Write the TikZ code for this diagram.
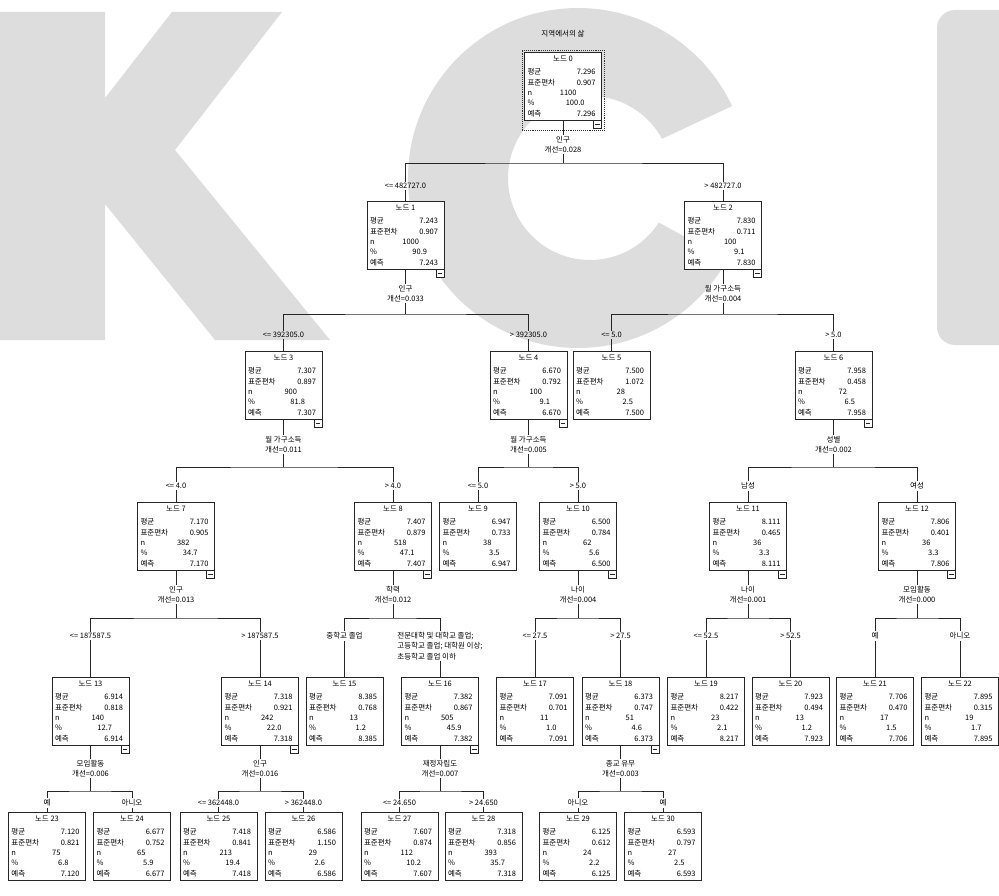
\documentclass[tikz,border=0pt]{standalone}
\usepackage{fontspec}
\setmainfont{Noto Sans CJK KR}
\usetikzlibrary{positioning,calc,fit}
\definecolor{kcigray}{RGB}{221,221,221}

% one line of a node table: label left, value right-aligned at #2
\newcommand\nrow[3]{\makebox[71pt][l]{\rlap{#1}\hspace{#2}\llap{#3}}}
\newcommand\stats[6]{\makebox[71pt]{노드 #1}\\[2.7pt]
  \nrow{평균}{68pt}{#2}\\\nrow{표준편차}{68pt}{#3}\\
  \nrow{n}{49pt}{#4}\\\nrow{\%}{57pt}{#5}\\\nrow{예측}{68pt}{#6}}

\begin{document}
\begin{tikzpicture}[
    x=1pt, y=-1pt,
    font=\fontsize{7.5}{10.3}\selectfont,
    spss/.style={rectangle, draw=black!85, line width=0.9pt, fill=white, minimum width=77pt, minimum height=68pt, inner sep=0pt, align=center, anchor=north},
    toggle/.style={rectangle, draw=black!85, line width=0.7pt, fill=white, minimum size=8pt, inner sep=0pt, anchor=north east,
        path picture={\draw[line width=0.6pt] ([xshift=1.8pt]path picture bounding box.west) -- ([xshift=-1.8pt]path picture bounding box.east);}},
    split/.style={align=center, inner sep=1pt},
    cond/.style={inner sep=1.5pt},
    edge/.style={draw=black!85, line width=0.8pt}
]
\useasboundingbox (0,0) rectangle (999,896);

% Watermark letters
\fill[kcigray] (0,12) -- (105,12) -- (105,98) -- (172,12) -- (282,12) -- (175,150) -- (330,340)
    -- (215,340) -- (105,204) -- (105,340) -- (0,340) -- cycle;
\begin{scope}
    \clip (578,178) -- (805,72) -- (805,0) -- (380,0) -- (380,360) -- (805,360) -- (805,303) -- cycle;
    \fill[kcigray, even odd rule] (578,178) circle[radius=170] (590,178) circle[radius=82];
\end{scope}
\fill[kcigray, rounded corners=18pt] (937,345) -- (937,10) -- (1030,10) -- (1030,345) -- cycle;

% Title
\node (title) at (563,34) {지역에서의 삶};

% Level 0
\node[spss] (n0) at (563,52) {\stats{0}{7.296}{0.907}{1100}{100.0}{7.296}};

% Level 1
\node[spss] (n1) at (405.5,201) {\stats{1}{7.243}{0.907}{1000}{90.9}{7.243}};
\node[spss] (n2) at (723,201) {\stats{2}{7.830}{0.711}{100}{9.1}{7.830}};

% Level 2
\node[spss] (n3) at (283.5,351) {\stats{3}{7.307}{0.897}{900}{81.8}{7.307}};
\node[spss] (n4) at (528.5,351) {\stats{4}{6.670}{0.792}{100}{9.1}{6.670}};
\node[spss] (n5) at (611.5,351) {\stats{5}{7.500}{1.072}{28}{2.5}{7.500}};
\node[spss] (n6) at (833.5,351) {\stats{6}{7.958}{0.458}{72}{6.5}{7.958}};

% Level 3
\node[spss] (n7) at (176,502) {\stats{7}{7.170}{0.905}{382}{34.7}{7.170}};
\node[spss] (n8) at (393,502) {\stats{8}{7.407}{0.879}{518}{47.1}{7.407}};
\node[spss] (n9) at (478,502) {\stats{9}{6.947}{0.733}{38}{3.5}{6.947}};
\node[spss] (n10) at (578,502) {\stats{10}{6.500}{0.784}{62}{5.6}{6.500}};
\node[spss] (n11) at (748,502) {\stats{11}{8.111}{0.465}{36}{3.3}{8.111}};
\node[spss] (n12) at (917,502) {\stats{12}{7.806}{0.401}{36}{3.3}{7.806}};

% Level 4
\node[spss] (n13) at (90.5,677) {\stats{13}{6.914}{0.818}{140}{12.7}{6.914}};
\node[spss] (n14) at (260,677) {\stats{14}{7.318}{0.921}{242}{22.0}{7.318}};
\node[spss] (n15) at (344.5,677) {\stats{15}{8.385}{0.768}{13}{1.2}{8.385}};
\node[spss] (n16) at (440,677) {\stats{16}{7.382}{0.867}{505}{45.9}{7.382}};
\node[spss] (n17) at (535,677) {\stats{17}{7.091}{0.701}{11}{1.0}{7.091}};
\node[spss] (n18) at (620.5,677) {\stats{18}{6.373}{0.747}{51}{4.6}{6.373}};
\node[spss] (n19) at (706,677) {\stats{19}{8.217}{0.422}{23}{2.1}{8.217}};
\node[spss] (n20) at (790.5,677) {\stats{20}{7.923}{0.494}{13}{1.2}{7.923}};
\node[spss] (n21) at (875,677) {\stats{21}{7.706}{0.470}{17}{1.5}{7.706}};
\node[spss] (n22) at (960,677) {\stats{22}{7.895}{0.315}{19}{1.7}{7.895}};

% Level 5
\node[spss] (n23) at (47,812) {\stats{23}{7.120}{0.821}{75}{6.8}{7.120}};
\node[spss] (n24) at (132,812) {\stats{24}{6.677}{0.752}{65}{5.9}{6.677}};
\node[spss] (n25) at (218.5,812) {\stats{25}{7.418}{0.841}{213}{19.4}{7.418}};
\node[spss] (n26) at (303.5,812) {\stats{26}{6.586}{1.150}{29}{2.6}{6.586}};
\node[spss] (n27) at (399.5,812) {\stats{27}{7.607}{0.874}{112}{10.2}{7.607}};
\node[spss] (n28) at (483.5,812) {\stats{28}{7.318}{0.856}{393}{35.7}{7.318}};
\node[spss] (n29) at (578,812) {\stats{29}{6.125}{0.612}{24}{2.2}{6.125}};
\node[spss] (n30) at (663,812) {\stats{30}{6.593}{0.797}{27}{2.5}{6.593}};

% Split variables and improvement
\node[split] (s0) at (563,144.5) {인구\\개선=0.028};
\node[split] (s1) at (405.5,293.5) {인구\\개선=0.033};
\node[split] (s2) at (723,293.5) {월 가구소득\\개선=0.004};
\node[split] (s3) at (283.5,444.5) {월 가구소득\\개선=0.011};
\node[split] (s4) at (528.5,444.5) {월 가구소득\\개선=0.005};
\node[split] (s6) at (833.5,444.5) {성별\\개선=0.002};
\node[split] (s7) at (176,594.5) {인구\\개선=0.013};
\node[split] (s8) at (393,594.5) {학력\\개선=0.012};
\node[split] (s10) at (578,594.5) {나이\\개선=0.004};
\node[split] (s11) at (748,594.5) {나이\\개선=0.001};
\node[split] (s12) at (917,594.5) {모임활동\\개선=0.000};
\node[split] (s13) at (90.5,768.5) {모임활동\\개선=0.006};
\node[split] (s14) at (260,768.5) {인구\\개선=0.016};
\node[split] (s16) at (440,768.5) {재정자립도\\개선=0.007};
\node[split] (s18) at (620.5,768.5) {종교 유무\\개선=0.003};

% Branch bars
\coordinate (b0) at (563,163);
\foreach \p/\x in {1/405.5,2/723} \coordinate (b\p) at (\x,314);
\foreach \p/\x in {3/283.5,4/528.5,6/833.5} \coordinate (b\p) at (\x,467);
\foreach \p/\x in {7/176,8/393,10/578,11/748,12/917} \coordinate (b\p) at (\x,618);
\foreach \p/\x in {13/90.5,14/260,16/440,18/620.5} \coordinate (b\p) at (\x,791);

% Split conditions
\node[cond] (c1) at (405.5,186) {<= 482727.0};
\node[cond] (c2) at (723,186) {> 482727.0};
\node[cond] (c3) at (283.5,335) {<= 392305.0};
\node[cond] (c4) at (528.5,335) {> 392305.0};
\node[cond] (c5) at (611.5,335) {<= 5.0};
\node[cond] (c6) at (833.5,335) {> 5.0};
\node[cond] (c7) at (176,486) {<= 4.0};
\node[cond] (c8) at (393,486) {> 4.0};
\node[cond] (c9) at (478,486) {<= 5.0};
\node[cond] (c10) at (578,486) {> 5.0};
\node[cond] (c11) at (748,486) {남성};
\node[cond] (c12) at (917,486) {여성};
\node[cond] (c13) at (90.5,636) {<= 187587.5};
\node[cond] (c14) at (260,636) {> 187587.5};
\node[cond] (c15) at (344.5,636) {중학교 졸업};
\node[cond, align=left] (c16) at (440,646) {전문대학 및 대학교 졸업;\\고등학교 졸업; 대학원 이상;\\초등학교 졸업 이하};
\node[cond] (c17) at (535,636) {<= 27.5};
\node[cond] (c18) at (620.5,636) {> 27.5};
\node[cond] (c19) at (706,636) {<= 52.5};
\node[cond] (c20) at (790.5,636) {> 52.5};
\node[cond] (c21) at (875,636) {예};
\node[cond] (c22) at (960,636) {아니오};
\node[cond] (c23) at (47,803) {예};
\node[cond] (c24) at (132,803) {아니오};
\node[cond] (c25) at (218.5,803) {<= 362448.0};
\node[cond] (c26) at (303.5,803) {> 362448.0};
\node[cond] (c27) at (399.5,803) {<= 24.650};
\node[cond] (c28) at (483.5,803) {> 24.650};
\node[cond] (c29) at (578,803) {아니오};
\node[cond] (c30) at (663,803) {예};

% Connectors
\foreach \p/\a/\b in {0/1/2,1/3/4,2/5/6,3/7/8,4/9/10,6/11/12,7/13/14,8/15/16,10/17/18,11/19/20,12/21/22,13/23/24,14/25/26,16/27/28,18/29/30} {
    \draw[edge] (n\p.south) -- (s\p.north);
    \draw[edge] (s\p.south) -- (b\p);
    \draw[edge] (c\a.north) |- (b\p) -| (c\b.north);
    \draw[edge] (c\a.south) -- (n\a.north);
    \draw[edge] (c\b.south) -- (n\b.north);
}

% Collapse toggles
\foreach \i in {0,1,2,3,4,6,7,8,10,11,12,13,14,16,18}
    \node[toggle] (t\i) at ([yshift=1pt]n\i.south east) {};

% Selected root
\node[draw=black!80, densely dotted, line width=0.9pt, fit=(n0)(t0), inner sep=2pt] (sel) {};

\end{tikzpicture}
\end{document}
